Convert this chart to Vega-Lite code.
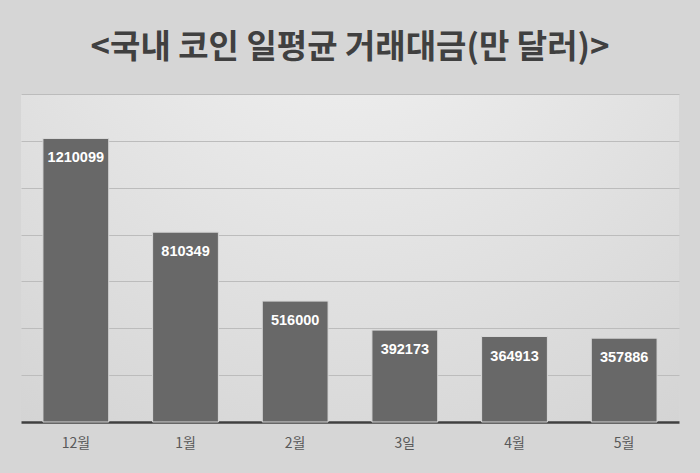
{
  "$schema": "https://vega.github.io/schema/vega-lite/v6.json",
  "width": 658,
  "height": 328,
  "autosize": {"type": "none"},
  "padding": {"left": 21, "top": 94, "right": 21, "bottom": 51},
  "background": "#d6d6d6",
  "title": {
    "text": "<국내 코인 일평균 거래대금(만 달러)>",
    "font": "Noto Sans CJK KR",
    "fontSize": 33,
    "fontWeight": "bold",
    "color": "#404040",
    "anchor": "middle",
    "offset": 29
  },
  "config": {
    "view": {"stroke": null, "fill": {"gradient": "radial", "x1": 0.5, "y1": 0, "r1": 0, "x2": 0.5, "y2": 0, "r2": 1.1, "stops": [{"offset": 0, "color": "#f4f4f4"}, {"offset": 1, "color": "#cdcdcd"}]}}
  },
  "data": {
    "values": [
      {"month": "12월", "value": 1210099},
      {"month": "1월", "value": 810349},
      {"month": "2월", "value": 516000},
      {"month": "3일", "value": 392173},
      {"month": "4월", "value": 364913},
      {"month": "5월", "value": 357886}
    ]
  },
  "encoding": {
    "x": {
      "field": "month",
      "type": "nominal",
      "sort": null,
      "scale": {"paddingInner": 0.4, "paddingOuter": 0.2},
      "axis": {
        "title": null,
        "labelAngle": 0,
        "labelFont": "Noto Sans CJK KR",
        "labelFontSize": 14,
        "labelColor": "#595959",
        "labelPadding": 14,
        "ticks": false,
        "domainColor": "#404040",
        "domainWidth": 2.5
      }
    },
    "y": {
      "field": "value",
      "type": "quantitative",
      "scale": {"domain": [0, 1400000], "nice": false},
      "axis": {
        "title": null,
        "labels": false,
        "ticks": false,
        "domain": false,
        "values": [200000, 400000, 600000, 800000, 1000000, 1200000, 1400000],
        "gridColor": "#bcbcbc",
        "gridWidth": 1
      }
    }
  },
  "layer": [
    {
      "mark": {"type": "bar", "color": "#686868", "stroke": "#d8d8d8", "strokeWidth": 1}
    },
    {
      "mark": {
        "type": "text",
        "baseline": "middle",
        "dy": 20,
        "font": "Liberation Sans",
        "fontWeight": "bold",
        "fontSize": 14.5,
        "color": "#ffffff"
      },
      "encoding": {"text": {"field": "value", "type": "quantitative", "format": "d"}}
    }
  ]
}
